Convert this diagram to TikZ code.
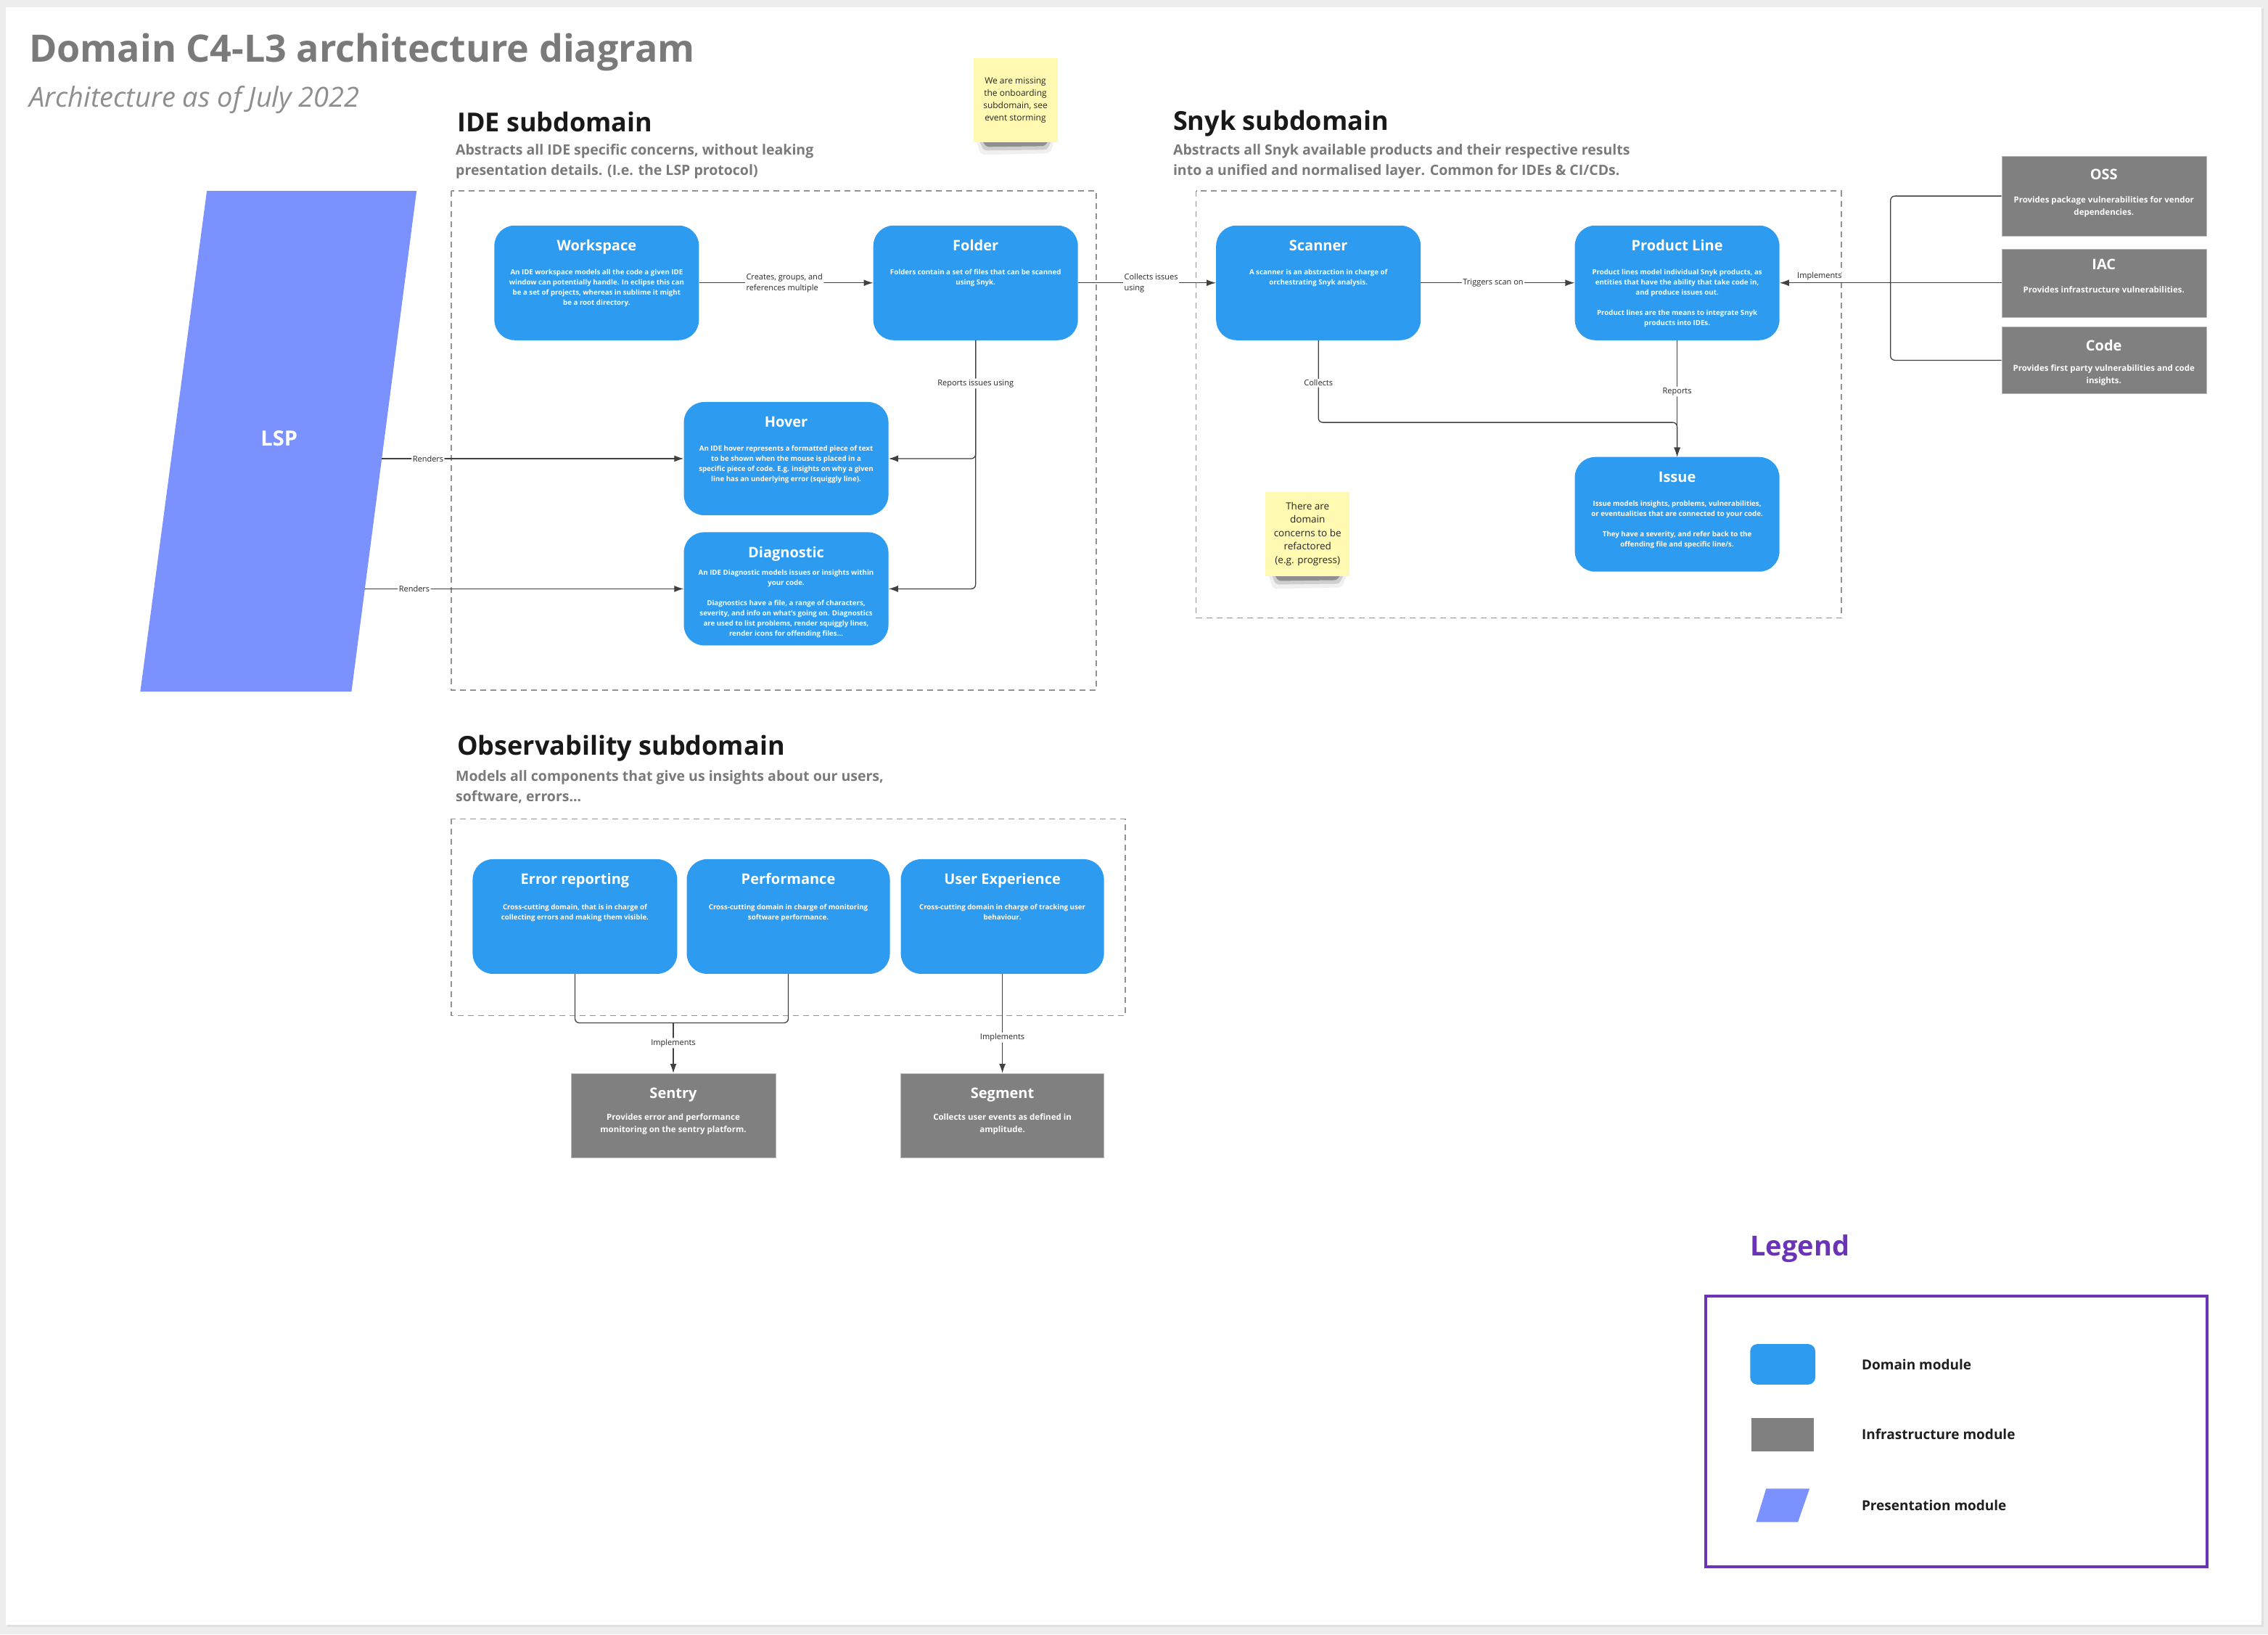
\documentclass[tikz,border=0pt]{standalone}
\usepackage{fontspec}
\setmainfont{Open Sans}
\usepackage{tikz}
\usetikzlibrary{arrows.meta, positioning, calc}

\definecolor{dombl}{HTML}{2D9BF0}
\definecolor{infgr}{HTML}{808080}
\definecolor{lspbl}{HTML}{7B92FE}
\definecolor{stick}{HTML}{FFF9B1}
\definecolor{hdgr}{HTML}{7A7A7A}
\definecolor{legpu}{HTML}{6A33B8}
\definecolor{pagegr}{HTML}{EDEDED}

\newcommand{\fsz}[2]{\fontsize{#1}{#2}\selectfont}

\tikzset{
	dom/.style={fill=dombl, rounded corners=28pt, minimum width=282pt, minimum height=158pt, inner sep=0pt},
	inf/.style={fill=infgr, draw=gray!55, minimum width=282pt, inner sep=0pt},
	ttl/.style={text=white, font=\bfseries\fsz{20}{24}, anchor=base, inner sep=0pt},
	dsc/.style={text=white, font=\bfseries\fsz{9.7}{14}, align=center, anchor=north, inner sep=0pt},
	infdsc/.style={dsc, font=\bfseries\fsz{11.5}{17}},
	lbl/.style={font=\fsz{11}{15}, fill=white, inner sep=1.5pt, text=black!85},
	con/.style={draw=black!75, line width=1.3pt, rounded corners=6pt},
	arr/.style={con, -{Latex[length=13pt, width=9pt]}},
	zone/.style={draw=gray!85, line width=1.5pt, dash pattern=on 8pt off 6pt},
	sticky/.style={fill=stick, minimum width=116pt, minimum height=116pt, align=center, text=black!85, inner sep=0pt},
	hd/.style={anchor=base west, font=\bfseries\fsz{36}{42}, text=black!90, inner sep=0pt},
	hddsc/.style={anchor=north west, font=\bfseries\fsz{19.5}{28}, text=hdgr, align=left, inner sep=0pt},
	legtxt/.style={anchor=west, font=\bfseries\fsz{19}{23}, text=black!88, inner sep=0pt}
}

\begin{document}
\begin{tikzpicture}[x=0.9968pt, y=-0.9968pt]
	\useasboundingbox (0,0) rectangle (3136,2259.2);
	\fill[pagegr] (0,0) rectangle (3136,2259.2);
	\fill[black!12] (10,12) rectangle (3130,2249);
	\fill[white] (8,10) rectangle (3127,2246);

	\node[anchor=base west, inner sep=0pt, font=\bfseries\fsz{52}{60}, text=hdgr] (title) at (40,86) {Domain C4-L3 architecture diagram};
	\node[anchor=base west, inner sep=0pt, font=\itshape\fsz{38}{44}, text=hdgr!85] (subtitle) at (40,148) {Architecture as of July 2022};

	\node[hd] (ide-h) at (632,182) {IDE subdomain};
	\node[hddsc] (ide-d) at (630,199) {Abstracts all IDE specific concerns, without leaking\\presentation details. (I.e. the LSP protocol)};
	\node[hd] (snyk-h) at (1622,180) {Snyk subdomain};
	\node[hddsc] (snyk-d) at (1622,199) {Abstracts all Snyk available products and their respective results\\into a unified and normalised layer. Common for IDEs \& CI/CDs.};
	\node[hd] (obs-h) at (632,1044) {Observability subdomain};
	\node[hddsc] (obs-d) at (630,1065) {Models all components that give us insights about our users,\\software, errors...};

	\draw[zone] (624,264) rectangle (1516,954);
	\draw[zone] (1654,264) rectangle (2546,854);
	\draw[zone] (624,1132) rectangle (1556,1404);

	\foreach \sx/\sy in {1346/196, 1750/796}{
		\fill[black, opacity=.06, rounded corners=5pt] (\sx+2,\sy-8) -- (\sx+114,\sy-8) -- (\sx+106,\sy+16) -- (\sx+10,\sy+18) -- cycle;
		\fill[black, opacity=.14, rounded corners=4pt] (\sx+6,\sy-6) -- (\sx+110,\sy-6) -- (\sx+102,\sy+11) -- (\sx+14,\sy+12) -- cycle;
		\fill[black, opacity=.30, rounded corners=3pt] (\sx+10,\sy-4) -- (\sx+106,\sy-4) -- (\sx+98,\sy+6) -- (\sx+18,\sy+7) -- cycle;
	}
	\node[sticky, font=\fsz{12}{17}] (note-onb) at (1404,138) {We are missing\\the onboarding\\subdomain, see\\event storming};
	\node[sticky, font=\fsz{13.5}{18.5}] (note-ref) at (1808,738) {There are\\domain\\concerns to be\\refactored\\(e.g. progress)};

	\fill[lspbl] (286,264) -- (576,264) -- (486,956) -- (194,956) -- cycle;
	\node[text=white, font=\bfseries\fsz{29}{34}] (lsp) at (386,606) {LSP};
	\coordinate (lsp-hov) at (528,634);
	\coordinate (lsp-diag) at (505,814);

	\node[dom] (ws) at (825,391) {};
	\node[ttl] (ws-t) at ([yshift=-35pt]ws.north) {Workspace};
	\node[dsc] (ws-d) at ([yshift=-60pt]ws.north) {An IDE workspace models all the code a given IDE\\window can potentially handle. In eclipse this can\\be a set of projects, whereas in sublime it might\\be a root directory.};

	\node[dom] (folder) at (1349,391) {};
	\node[ttl] (folder-t) at ([yshift=-35pt]folder.north) {Folder};
	\node[dsc] (folder-d) at ([yshift=-60pt]folder.north) {Folders contain a set of files that can be scanned\\using Snyk.};

	\node[dom, minimum height=156pt] (hover) at (1087,634) {};
	\node[ttl] (hover-t) at ([yshift=-35pt]hover.north) {Hover};
	\node[dsc] (hover-d) at ([yshift=-60pt]hover.north) {An IDE hover represents a formatted piece of text\\to be shown when the mouse is placed in a\\specific piece of code. E.g. insights on why a given\\line has an underlying error (squiggly line).};

	\node[dom, minimum height=156pt] (diag) at (1087,814) {};
	\node[ttl] (diag-t) at ([yshift=-35pt]diag.north) {Diagnostic};
	\node[dsc] (diag-d) at ([yshift=-52pt]diag.north) {An IDE Diagnostic models issues or insights within\\your code.\\[14pt]Diagnostics have a file, a range of characters,\\severity, and info on what's going on. Diagnostics\\are used to list problems, render squiggly lines,\\render icons for offending files...};

	\node[dom] (scanner) at (1823,391) {};
	\node[ttl] (scanner-t) at ([yshift=-35pt]scanner.north) {Scanner};
	\node[dsc] (scanner-d) at ([yshift=-60pt]scanner.north) {A scanner is an abstraction in charge of\\orchestrating Snyk analysis.};

	\node[dom] (pl) at (2319,391) {};
	\node[ttl] (pl-t) at ([yshift=-35pt]pl.north) {Product Line};
	\node[dsc] (pl-d) at ([yshift=-60pt]pl.north) {Product lines model individual Snyk products, as\\entities that have the ability that take code in,\\and produce issues out.\\[14pt]Product lines are the means to integrate Snyk\\products into IDEs.};

	\node[dom] (issue) at (2319,711) {};
	\node[ttl] (issue-t) at ([yshift=-35pt]issue.north) {Issue};
	\node[dsc] (issue-d) at ([yshift=-60pt]issue.north) {Issue models insights, problems, vulnerabilities,\\or eventualities that are connected to your code.\\[14pt]They have a severity, and refer back to the\\offending file and specific line/s.};

	\node[inf, minimum height=110pt] (oss) at (2909,271) {};
	\node[ttl] (oss-t) at ([yshift=-33pt]oss.north) {OSS};
	\node[infdsc] (oss-d) at ([yshift=-56pt]oss.north) {Provides package vulnerabilities for vendor\\dependencies.};

	\node[inf, minimum height=94pt] (iac) at (2909,391) {};
	\node[ttl] (iac-t) at ([yshift=-29pt]iac.north) {IAC};
	\node[infdsc] (iac-d) at ([yshift=-52pt]iac.north) {Provides infrastructure vulnerabilities.};

	\node[inf, minimum height=92pt] (code) at (2909,498) {};
	\node[ttl] (code-t) at ([yshift=-33pt]code.north) {Code};
	\node[infdsc] (code-d) at ([yshift=-52pt]code.north) {Provides first party vulnerabilities and code\\insights.};

	\node[dom] (err) at (795,1267) {};
	\node[ttl] (err-t) at ([yshift=-35pt]err.north) {Error reporting};
	\node[dsc] (err-d) at ([yshift=-62pt]err.north) {Cross-cutting domain, that is in charge of\\collecting errors and making them visible.};

	\node[dom, minimum width=280pt] (perf) at (1090,1267) {};
	\node[ttl] (perf-t) at ([yshift=-35pt]perf.north) {Performance};
	\node[dsc] (perf-d) at ([yshift=-62pt]perf.north) {Cross-cutting domain in charge of monitoring\\software performance.};

	\node[dom, minimum width=280pt] (ux) at (1386,1267) {};
	\node[ttl] (ux-t) at ([yshift=-35pt]ux.north) {User Experience};
	\node[dsc] (ux-d) at ([yshift=-62pt]ux.north) {Cross-cutting domain in charge of tracking user\\behaviour.};

	\node[inf, minimum height=116pt] (sentry) at (931,1542) {};
	\node[ttl] (sentry-t) at ([yshift=-35pt]sentry.north) {Sentry};
	\node[infdsc] (sentry-d) at ([yshift=-56pt]sentry.north) {Provides error and performance\\monitoring on the sentry platform.};

	\node[inf, minimum width=280pt, minimum height=116pt] (segment) at (1386,1542) {};
	\node[ttl] (segment-t) at ([yshift=-35pt]segment.north) {Segment};
	\node[infdsc] (segment-d) at ([yshift=-56pt]segment.north) {Collects user events as defined in\\amplitude.};

	\draw[arr] (ws.east) -- (folder.west) node[lbl, align=left, pos=.49] {Creates, groups, and\\references multiple};
	\draw[arr] (folder.east) -- (scanner.west) node[lbl, align=left, pos=.53] {Collects issues\\using};
	\draw[arr] (folder.south) |- (hover.east);
	\draw[arr] (folder.south) |- node[lbl, pos=.087] {Reports issues using} (diag.east);
	\draw[arr] (lsp-hov) -- (hover.west) node[lbl, pos=.153] {Renders};
	\draw[arr] (lsp-diag) -- (diag.west) node[lbl, pos=.154] {Renders};

	\draw[arr] (scanner.east) -- (pl.west) node[lbl, pos=.47] {Triggers scan on};
	\coordinate (join-issue) at (2319,584);
	\draw[arr] (scanner.south) |- node[lbl, pos=.26] {Collects} (join-issue) -- (issue.north);
	\draw[arr] (pl.south) -- (issue.north) node[lbl, pos=.44] {Reports};

	\coordinate (impl) at (2614,391);
	\draw[con] (oss.west) -| (impl);
	\draw[con] (code.west) -| (impl);
	\draw[arr] (iac.west) -- (pl.east) node[lbl, pos=.82, above=1pt] {Implements};

	\coordinate (join-sentry) at (931,1414);
	\draw[con] (err.south) |- (join-sentry);
	\draw[con] (perf.south) |- (join-sentry);
	\draw[arr] (join-sentry) -- (sentry.north) node[lbl, pos=.4] {Implements};
	\draw[arr] (ux.south) -- (segment.north) node[lbl, pos=.64] {Implements};

	\node[anchor=base west, inner sep=0pt, font=\bfseries\fsz{38}{44}, text=legpu] (leg-t) at (2420,1736) {Legend};
	\draw[legpu, line width=4pt] (2358,1792) rectangle (3052,2166);
	\fill[dombl, rounded corners=10pt] (2420,1858) rectangle (2510,1914);
	\node[legtxt] (leg-dom) at (2574,1886) {Domain module};
	\fill[infgr] (2422,1960) rectangle (2508,2006);
	\node[legtxt] (leg-inf) at (2574,1983) {Infrastructure module};
	\fill[lspbl] (2442,2058) -- (2502,2058) -- (2486,2104) -- (2428,2104) -- cycle;
	\node[legtxt] (leg-pre) at (2574,2081) {Presentation module};
\end{tikzpicture}
\end{document}
